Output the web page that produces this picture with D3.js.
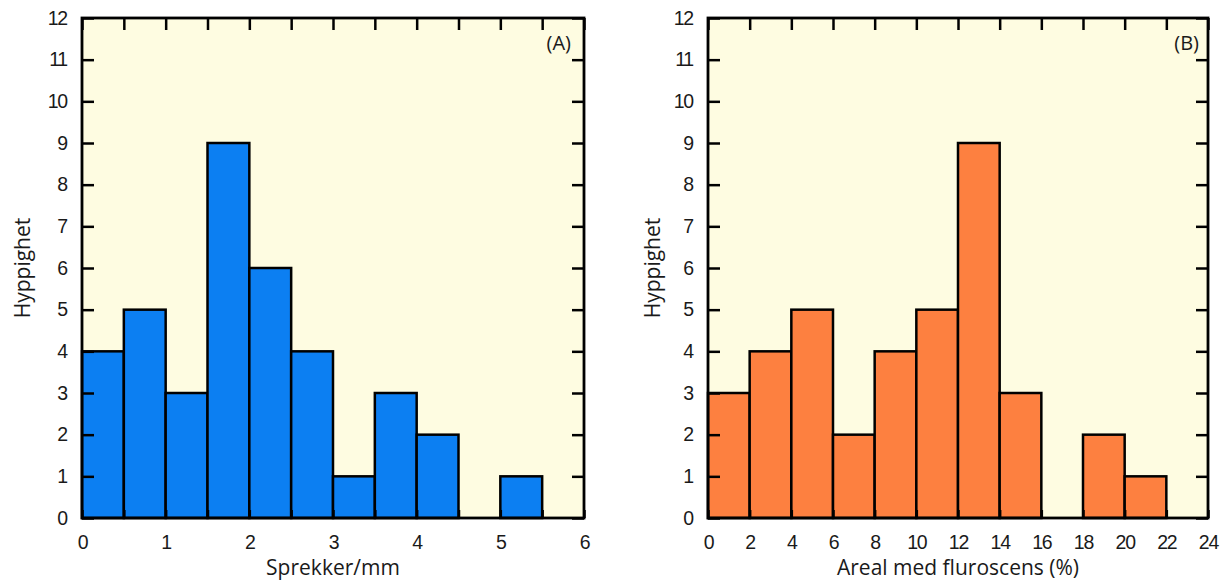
<!DOCTYPE html>
<html>
<head>
<meta charset="utf-8">
<script src="https://cdn.jsdelivr.net/npm/d3@7"></script>
<style>
  body { margin: 0; background: #fff; }
  svg { display: block; }
  .tick text { font-family: "Liberation Sans", Arial, sans-serif; font-size: 19.5px; letter-spacing: -1.2px; fill: #1a1a1a; }
  .lbl { font-family: "Open Sans", "Noto Sans", sans-serif; font-size: 21px; fill: #1a1a1a; }
  .tag { font-family: "Open Sans", "Noto Sans", sans-serif; font-size: 20px; fill: #1a1a1a; }
</style>
</head>
<body>
<div id="chart"></div>
<script>
const width = 1228;
const height = 581;

// panel A: Sprekker/mm, bins of 0.5
const binsA = [0, 0.5, 1, 1.5, 2, 2.5, 3, 3.5, 4, 4.5, 5, 5.5, 6];
const countsA = [4, 5, 3, 9, 6, 4, 1, 3, 2, 0, 1, 0];
const xTicksA = [0, 1, 2, 3, 4, 5, 6];

// panel B: Areal med fluroscens (%), bins of 2
const binsB = [0, 2, 4, 6, 8, 10, 12, 14, 16, 18, 20, 22, 24];
const countsB = [3, 4, 5, 2, 4, 5, 9, 3, 0, 2, 1, 0];
const xTicksB = [0, 2, 4, 6, 8, 10, 12, 14, 16, 18, 20, 22, 24];

const yTicks = d3.range(0, 13);

const svg = d3.select("#chart").append("svg")
    .attr("width", width)
    .attr("height", height);

function panel(opts) {
    const {left, right, top, bottom, bins, counts, xTicks, color, xLabel, tag, labelX, tagPad} = opts;

    const x = d3.scaleLinear()
        .domain([bins[0], bins[bins.length - 1]])
        .range([left, right]);
    const y = d3.scaleLinear()
        .domain([0, 12])
        .range([bottom, top]);

    const g = svg.append("g");

    g.append("rect")
        .attr("x", left).attr("y", top)
        .attr("width", right - left).attr("height", bottom - top)
        .attr("fill", "#fefce1");

    const data = counts.map((c, i) => ({x0: bins[i], x1: bins[i + 1], c}))
        .filter(d => d.c > 0);

    g.selectAll(".bar")
        .data(data)
        .enter()
        .append("rect")
        .attr("class", "bar")
        .attr("x", d => x(d.x0))
        .attr("y", d => y(d.c))
        .attr("width", d => x(d.x1) - x(d.x0))
        .attr("height", d => y(0) - y(d.c))
        .attr("fill", color)
        .attr("stroke", "#000")
        .attr("stroke-width", 2.5);

    // ticks pointing inward on all four sides
    const tl = 12;
    g.append("g")
        .attr("transform", `translate(${left},0)`)
        .call(d3.axisLeft(y).tickValues(yTicks).tickSize(-tl).tickPadding(15));
    g.append("g")
        .attr("transform", `translate(${right},0)`)
        .call(d3.axisRight(y).tickValues(yTicks).tickSize(-tl).tickFormat(""));
    g.append("g")
        .attr("transform", `translate(0,${bottom})`)
        .call(d3.axisBottom(x).tickValues(bins).tickSize(-8).tickPadding(17)
            .tickFormat(d => xTicks.includes(d) ? d : ""));
    g.append("g")
        .attr("transform", `translate(0,${top})`)
        .call(d3.axisTop(x).tickValues(bins).tickSize(-tl).tickFormat(""));

    g.selectAll(".domain").remove();
    g.selectAll(".tick line").attr("stroke", "#000").attr("stroke-width", 2.5);

    g.append("rect")
        .attr("x", left).attr("y", top)
        .attr("width", right - left).attr("height", bottom - top)
        .attr("fill", "none")
        .attr("stroke", "#000")
        .attr("stroke-width", 2.8);

    g.append("text")
        .attr("class", "lbl")
        .attr("x", (left + right) / 2)
        .attr("y", 575)
        .attr("text-anchor", "middle")
        .text(xLabel);

    g.append("text")
        .attr("class", "lbl")
        .attr("transform", `translate(${labelX},${(top + bottom) / 2}) rotate(-90)`)
        .attr("text-anchor", "middle")
        .text("Hyppighet");

    g.append("text")
        .attr("class", "tag")
        .attr("x", right - tagPad)
        .attr("y", top + 32)
        .attr("text-anchor", "end")
        .text(tag);
}

panel({
    left: 82, right: 584, top: 18, bottom: 518,
    bins: binsA, counts: countsA, xTicks: xTicksA,
    color: "#0c7ff2", xLabel: "Sprekker/mm", tag: "(A)", labelX: 30, tagPad: 13
});

panel({
    left: 708, right: 1208, top: 18, bottom: 518,
    bins: binsB, counts: countsB, xTicks: xTicksB,
    color: "#fd8040", xLabel: "Areal med fluroscens (%)", tag: "(B)", labelX: 660, tagPad: 9
});
</script>
</body>
</html>
